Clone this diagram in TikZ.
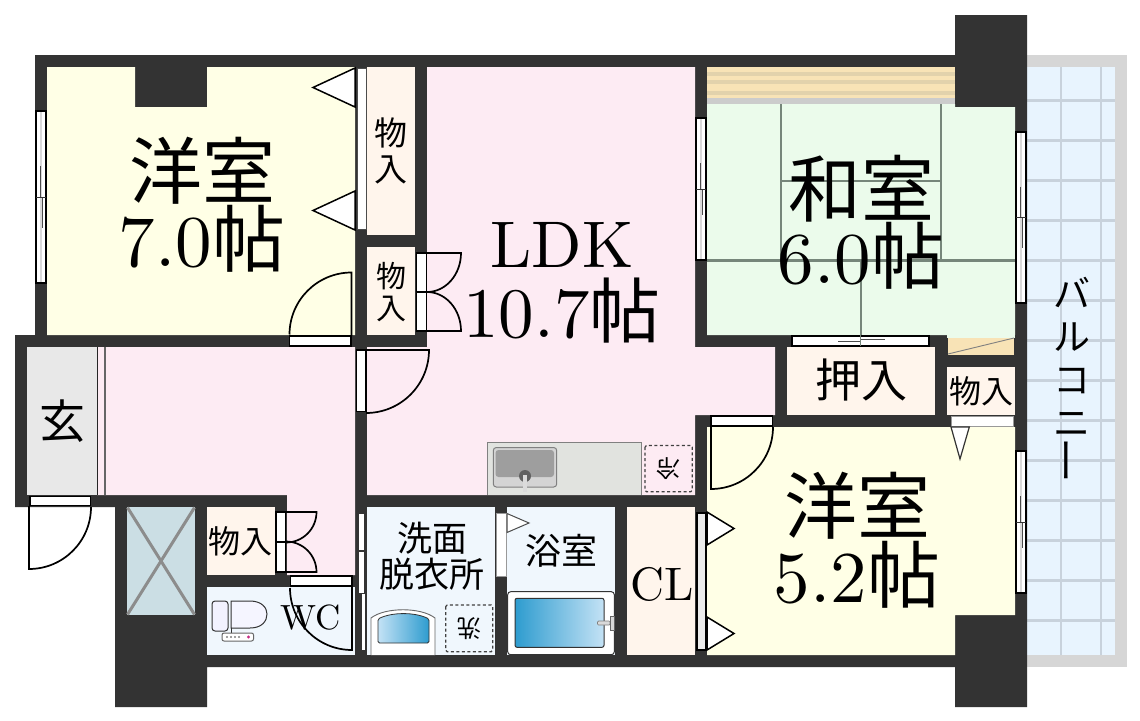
\documentclass[tikz,border=0pt]{standalone}
\usepackage{fontspec}
\newfontfamily\jp{Noto Sans CJK JP}
\newfontfamily\lt{lmroman10-regular}[Extension=.otf]
\definecolor{wallc}{HTML}{333333}
\definecolor{yroom}{HTML}{FFFFE6}
\definecolor{pinkc}{HTML}{FDEBF3}
\definecolor{closet}{HTML}{FFF5EC}
\definecolor{wetc}{HTML}{F0F7FD}
\definecolor{tatami}{HTML}{EBFBEB}
\definecolor{balc}{HTML}{E8F4FE}
\definecolor{balg}{HTML}{D6D6D6}
\definecolor{balline}{HTML}{C8D2DC}
\definecolor{beige}{HTML}{F8E3B6}
\definecolor{beiged}{HTML}{E2D2AC}
\definecolor{tline}{HTML}{76867A}
\definecolor{shaft}{HTML}{CBDEE4}
\definecolor{shaftx}{HTML}{8C8C8C}
\definecolor{kitch}{HTML}{E1E3DF}
\definecolor{tubd}{HTML}{2E9CCF}
\definecolor{tubl}{HTML}{C4E2F5}
\newcommand{\fpwinV}[4]{%
  \pgfmathsetmacro{\fpa}{(#1+#3)/2}\pgfmathsetmacro{\fpb}{(#2+#4)/2}%
  \pgfmathsetmacro{\fpc}{#2+(#4-#2)*0.32}\pgfmathsetmacro{\fpd}{#2+(#4-#2)*0.68}%
  \pgfmathsetmacro{\fpe}{\fpa-1}\pgfmathsetmacro{\fpf}{\fpa+1}%
  \draw[winframe] (#1,#2) rectangle (#3,#4);
  \fill[white!85!black] (\fpa-1.2,#2+1) rectangle (\fpa+1.2,#4-1);
  \draw[thinline] (\fpe,\fpc) -- (\fpe,\fpb);
  \draw[thinline] (\fpf,\fpb) -- (\fpf,\fpd);
  \draw[thick,black!80] (#1,\fpb) -- (#3,\fpb);
}
\tikzset{
  wall/.style={fill=wallc},
  winframe/.style={draw=black,line width=1.3pt,fill=white},
  thinline/.style={draw=black!70,line width=.6pt},
  doorframe/.style={draw=black,line width=1.3pt,fill=white},
  leaf/.style={draw=black,line width=1.7pt},
  tri/.style={draw=black,line width=1.5pt,fill=white,line join=miter},
  tat/.style={draw=tline,line width=2.6pt},
  ball/.style={draw=balline,line width=2.6pt},
  lab/.style={inner sep=0pt,align=center},
  dashbox/.style={draw=black!75,line width=1.3pt,dash pattern=on 3pt off 2.5pt,rounded corners=1.5pt},
}
\begin{document}
\begin{tikzpicture}[x=1pt,y=-1pt]
\useasboundingbox (0,0) rectangle (1140,720);
% balcony
\fill[balg] (1027,55) rectangle (1127,667);
\fill[balc] (1027,67) rectangle (1115,655);
\foreach \yy in {100.7,140.7,...,621} {\draw[ball] (1027,\yy) -- (1115,\yy);}
\draw[ball] (1061,67) -- (1061,655);
\draw[ball] (1101,67) -- (1101,655);
% walls silhouette
\fill[wall] (35,55) -- (955,55) -- (955,15) -- (1027,15) -- (1027,707) -- (955,707) -- (955,667) -- (207,667) -- (207,707) -- (115,707) -- (115,507) -- (15,507) -- (15,335) -- (35,335) -- cycle;
% rooms
\fill[yroom] (47,67) -- (135,67) -- (135,107) -- (207,107) -- (207,67) -- (355,67) -- (355,335) -- (47,335) -- cycle;
\fill[closet] (367,67) rectangle (415,235);
\fill[closet] (367,247) rectangle (415,335);
\fill[pinkc] (427,67) -- (695,67) -- (695,347) -- (775,347) -- (775,415) -- (695,415) -- (695,495) -- (367,495) -- (367,347) -- (427,347) -- cycle;
\fill[black!9] (27,347) rectangle (97,495);
\fill[pinkc] (97,347) -- (355,347) -- (355,575) -- (287,575) -- (287,495) -- (97,495) -- cycle;
\draw[black!85,line width=1.5pt] (97.5,347) -- (97.5,495);
\draw[black!60,line width=1.5pt] (104.8,347) -- (104.8,495);
% shaft
\fill[shaft] (127,507) rectangle (195,615);
\draw[shaftx,line width=3pt] (127.5,507.5) -- (194.5,614.5) (194.5,507.5) -- (127.5,614.5);
\fill[closet] (207,507) rectangle (275,575);
\fill[wetc] (207,587) rectangle (355,655);
\fill[wetc] (367,507) rectangle (495,655);
\fill[wetc] (507,507) rectangle (615,655);
\fill[closet] (627,507) rectangle (695,655);
\fill[yroom] (707,427) -- (1015,427) -- (1015,615) -- (955,615) -- (955,655) -- (707,655) -- cycle;
\fill[closet] (787,347) rectangle (935,415);
\fill[closet] (947,367) rectangle (1015,415);
% tatami room
\fill[tatami] (707,104) -- (955,104) -- (955,107) -- (1015,107) -- (1015,335) -- (707,335) -- cycle;
\fill[tatami] (947,335) rectangle (1015,338);
\fill[beige] (707,67) rectangle (955,98);
\foreach \yy in {72,80,91} {\fill[beiged] (707,\yy) rectangle (955,\yy+3.5);}
\fill[black!20] (707,98) rectangle (955,104);
\draw[tat] (781,104) -- (781,260.7);
\draw[tat] (941,104) -- (941,260.7);
\draw[tat] (781,181) -- (941,181);
\draw[tat] (707,260.7) -- (1015,260.7);
\draw[tat] (861,260.7) -- (861,335);
\fill[beige] (948,338) rectangle (1014,354.5);
\draw[black!50,line width=.9pt] (948,354) -- (1014,338);
% windows
\fpwinV{36}{111}{46}{283}
\fpwinV{696}{118}{706}{260}
\fpwinV{1016}{132}{1026}{303}
\fpwinV{1016}{451}{1026}{593}
% oshiire sliding door
\draw[winframe] (792,336) rectangle (929,346);
\draw[thinline,line width=1pt] (838,341) -- (860.5,341) (860.5,339) -- (885,339);
\draw[tat,line width=1.5pt] (860.5,335) -- (860.5,346);
% closet door and its triangles
\draw[draw=black!70,line width=1pt,fill=white] (357,68) rectangle (366,229);
\draw[tri] (355,68) -- (313,87.5) -- (355,107) -- cycle;
\draw[tri] (355,191) -- (313,210.5) -- (355,230) -- cycle;
% closet2 double door
\draw[doorframe] (416.7,253) rectangle (426.5,331);
\draw[doorframe] (416.7,292) -- (426.5,292);
\draw[leaf] (427,253) -- (461,253) arc[start angle=0,end angle=-90,x radius=34pt,y radius=39pt];
\draw[leaf] (427,331) -- (461,331) arc[start angle=0,end angle=90,x radius=34pt,y radius=39pt];
% door 7.0
\draw[doorframe] (289.5,336) rectangle (351,346);
\draw[leaf] (351.5,336) -- (351.5,272.5) arc[start angle=90,end angle=180,radius=62pt];
% door LDK
\draw[doorframe] (356.5,350) rectangle (366,411.5);
\draw[leaf] (366,350) -- (429,350) arc[start angle=0,end angle=-90,radius=63pt];
% door 5.2
\draw[doorframe] (711,416) rectangle (772.5,426);
\draw[leaf] (711,426) -- (711,489) arc[start angle=-90,end angle=0,radius=62pt];
% entrance
\draw[doorframe] (30,496.5) rectangle (90.5,505.5);
\draw[leaf] (29,506) -- (29,569) arc[start angle=-90,end angle=0,radius=62pt];
% closet3 double door
\draw[doorframe] (276,512) rectangle (285.7,572);
\draw[doorframe] (276,542) -- (285.7,542);
\draw[leaf] (286,512) -- (316.5,512) arc[start angle=0,end angle=-90,radius=30.5pt];
\draw[leaf] (286,572) -- (316.5,572) arc[start angle=0,end angle=90,radius=30.5pt];
% WC door
\draw[doorframe] (290.5,576) rectangle (352,586);
\draw[leaf] (352,586) -- (352,650) arc[start angle=-90,end angle=-180,radius=62pt];
% washroom sliding door
\draw[draw=black!80,line width=1pt,fill=white] (358,513) rectangle (364,593);
\draw[draw=black!80,line width=1pt,fill=white] (361,593) rectangle (365,650);
\draw[black!80,line width=1.2pt] (356,551) -- (366,551);
% bath door
\draw[draw=black!40,line width=.8pt,fill=white] (496,513) rectangle (506,576);
\draw[draw=black!70,line width=1pt,fill=white] (507,513.5) -- (529,523) -- (507,532.5) -- cycle;
% CL door
\draw[draw=black,line width=1.3pt,fill=white!92!black] (697,513) rectangle (706,650);
\draw[tri] (707,512) -- (734,528.5) -- (707,545) -- cycle;
\draw[tri] (707,617) -- (734,633.5) -- (707,650) -- cycle;
% small closet door
\draw[draw=black!40,line width=.8pt,fill=white] (951,416) rectangle (1013,426);
\draw[draw=black!80,line width=1.2pt,fill=white] (951,427) -- (960,459) -- (969.3,427) -- cycle;
% kitchen
\draw[draw=black!50,line width=.8pt,fill=kitch] (487.3,495) -- (487.3,442.3) -- (641.5,442.3) -- (641.5,495);
\draw[draw=black!50,line width=1pt,fill=black!17,rounded corners=3pt] (493.3,447.5) rectangle (556.7,487);
\fill[black!38,rounded corners=3pt] (495.5,450) rectangle (554,477);
\fill[black!62] (525,476) circle[radius=6pt];
\fill[black!14] (523,475) rectangle (527,492);
\draw[dashbox] (645,445.5) rectangle (692.3,491.7);
% washbasin
\draw[draw=black!60,line width=.9pt,fill=white] (371,655) -- (371,618) .. controls (385,607) and (421,607) .. (435,618) -- (435,655);
\draw[draw=black!80,line width=.8pt,left color=tubl,right color=tubd,rounded corners=1.5pt] (378,643) -- (378,619) .. controls (392,612) and (415,612) .. (429,619) -- (429,643) -- cycle;
\draw[dashbox] (445.7,605) rectangle (492.7,651.7);
% bath tub
\draw[draw=black!80,line width=1pt,fill=white,rounded corners=3pt] (507.7,654.7) -- (507.7,591.7) -- (614.3,591.7) -- (614.3,654.7) -- cycle;
\draw[draw=black!80,line width=1pt,left color=tubd,right color=tubl,rounded corners=2pt] (515,598.3) rectangle (604,647.3);
\draw[draw=black!50,line width=.7pt,fill=black!15,rounded corners=1pt] (597.5,621) rectangle (610,625);
\draw[draw=black!60,line width=.7pt,fill=black!15] (610,616) rectangle (614,630);
% toilet
\draw[draw=black!80,line width=1pt,fill=white!95!blue,rounded corners=3pt] (212,601) rectangle (228,631);
\draw[draw=black!80,line width=1pt,fill=white!96!blue] (231,601) -- (250,601) .. controls (262,601) and (267,608) .. (267,614) .. controls (267,621) and (262,628) .. (250,628) -- (231,628) -- cycle;
\draw[draw=black!80,line width=1pt] (231,628) -- (231,633);
\draw[draw=black!60,line width=1pt,fill=white,rounded corners=2pt] (222,633) rectangle (253.5,641);
\foreach \xx in {227,231,235,239} {\fill[black!50] (\xx,637) circle[radius=1.2pt];}
\fill[magenta!80!black] (248.5,637) circle[radius=1.7pt];
% texts
\node[lab,font=\fontsize{73}{67}\selectfont] (yoshitsuA) at (202,205) {{\jp 洋室}\\{\lt 7.0}{\jp 帖}};
\node[lab,font=\fontsize{73}{67}\selectfont] (washitsu) at (861,222) {{\jp 和室}\\{\lt 6.0}{\jp 帖}};
\node[lab,font=\fontsize{73}{69}\selectfont] (yoshitsuB) at (857,540) {{\jp 洋室}\\{\lt 5.2}{\jp 帖}};
\node[lab,font=\fontsize{71}{70}\selectfont] (ldk) at (562,283) {{\lt\fontsize{66}{70}\selectfont LDK}\\{\lt 10.7}{\jp 帖}};
\node[lab,font=\jp\fontsize{33}{36}\selectfont] (monoA) at (391,151) {物\\入};
\node[lab,font=\jp\fontsize{30}{32}\selectfont] (monoB) at (391,292) {物\\入};
\node[lab,font=\jp\fontsize{46}{46}\selectfont] (genkan) at (62,421) {玄};
\node[lab,font=\jp\fontsize{32}{32}\selectfont] (monoC) at (240,541) {物入};
\node[lab,font=\lt\fontsize{35}{35}\selectfont] (wc) at (311,618) {WC};
\node[lab,font=\jp\fontsize{35}{36}\selectfont] (senmen) at (432,556) {洗面\\脱衣所};
\node[lab,font=\jp\fontsize{36}{36}\selectfont] (yokushitsu) at (561,551) {浴室};
\node[lab,font=\lt\fontsize{47}{47}\selectfont] (cl) at (662,584) {CL};
\node[lab,font=\jp\fontsize{46}{46}\selectfont] (oshiire) at (861,380) {押入};
\node[lab,font=\jp\fontsize{32}{32}\selectfont] (monoD) at (981,391) {物入};
\node[lab,font=\jp\fontsize{37}{43}\selectfont] (balcony) at (1072,380) {バ\\ル\\コ\\ニ\\\rotatebox{90}{\scalebox{1.25}[1]{ー}}};
\node[lab,rotate=180,font=\jp\fontsize{24}{24}\selectfont] (reizo) at (668.5,468.5) {冷};
\node[lab,rotate=180,font=\jp\fontsize{24}{24}\selectfont] (sentaku) at (469,628.5) {洗};
\end{tikzpicture}
\end{document}
